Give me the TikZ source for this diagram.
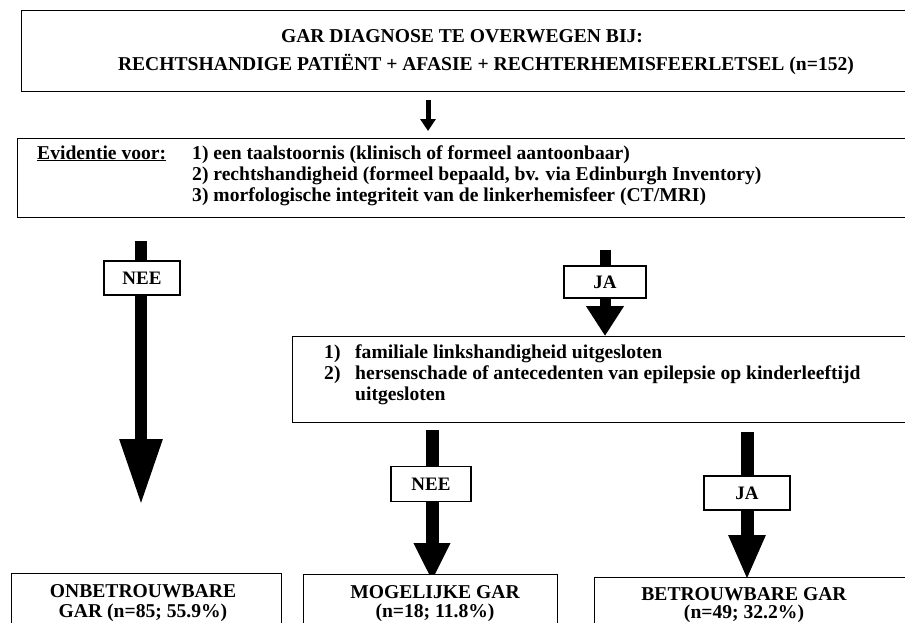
\documentclass[tikz,border=0pt]{standalone}
\usepackage{fontspec}
\setmainfont{Liberation Serif}
\usetikzlibrary{arrows.meta}
\begin{document}
\begin{tikzpicture}[x=1pt,y=-1pt,
  box/.style={draw, line width=1.3pt, inner sep=0pt, fill=white},
  lbl/.style={box, font=\bfseries\fontsize{19}{21}\selectfont},
  txt/.style={inner sep=0pt, font=\bfseries\fontsize{19.6}{21}\selectfont},
  fat/.style={line width=#1},
]
\clip (0,0) rectangle (905,622);
\useasboundingbox (0,0) rectangle (905,622);
\fill[white] (0,0) rectangle (905,622);

% top box (right side runs off the page)
\node[box, minimum width=940, minimum height=81, anchor=north west] (top) at (21,10) {};
\node[txt, anchor=base] (t1) at (462,42) {GAR DIAGNOSE TE OVERWEGEN BIJ:};
\node[txt, anchor=base] (t2) at (486,70) {RECHTSHANDIGE PATIËNT + AFASIE + RECHTERHEMISFEERLETSEL (n=152)};

% small arrow
\coordinate (s1) at (428,100);
\coordinate (s2) at (428,131);
\draw[fat=5pt, -{Triangle[width=15pt,length=12pt]}] (s1) -- (s2);

% evidence box
\node[box, minimum width=940, minimum height=79, anchor=north west] (ev) at (17,138) {};
\node[txt, anchor=base west] (evl) at (37,159) {\underline{Evidentie voor:}};
\node[txt, anchor=base west] (ev1) at (192,159) {1) een taalstoornis (klinisch of formeel aantoonbaar)};
\node[txt, anchor=base west] (ev2) at (192,180) {2) rechtshandigheid (formeel bepaald, bv. via Edinburgh Inventory)};
\node[txt, anchor=base west] (ev3) at (192,201) {3) morfologische integriteit van de linkerhemisfeer (CT/MRI)};

% criteria box
\node[box, minimum width=640, minimum height=86, anchor=north west] (crit) at (292,336) {};
\node[txt, anchor=base west] (c1n) at (324,358) {1)};
\node[txt, anchor=base west] (c1) at (355,358) {familiale linkshandigheid uitgesloten};
\node[txt, anchor=base west] (c2n) at (324,379) {2)};
\node[txt, anchor=base west] (c2) at (355,379) {hersenschade of antecedenten van epilepsie op kinderleeftijd};
\node[txt, anchor=base west] (c3) at (355,400) {uitgesloten};

% arrows
\coordinate (la1) at (141,241);
\coordinate (la2) at (141,505);
\draw[fat=12pt, -{Triangle[width=40pt,length=66pt]}] (la1) -- (la2);
\coordinate (ja1) at (605,250);
\draw[fat=11pt, -{Triangle[width=36pt,length=30pt]}] (ja1) -- (crit.north -| ja1);
\coordinate (ma1) at (432,430);
\coordinate (ma2) at (432,581);
\draw[fat=13pt, -{Triangle[width=34pt,length=38pt]}] (ma1) -- (ma2);
\coordinate (ra1) at (747,432);
\coordinate (ra2) at (747,580);
\draw[fat=13pt, -{Triangle[width=34pt,length=45pt]}] (ra1) -- (ra2);

% labels on arrows
\node[lbl, minimum width=76, minimum height=34] (nee1) at (142,278) {NEE};
\node[lbl, minimum width=82, minimum height=32] (ja1b) at (605,282) {JA};
\node[lbl, minimum width=80, minimum height=35] (nee2) at (431,484) {NEE};
\node[lbl, minimum width=86, minimum height=34] (ja2b) at (747,493) {JA};

% bottom boxes (bottom edges run off the page)
\node[box, minimum width=270, minimum height=80, anchor=north west] (ra) at (11,573) {};
\node[box, minimum width=254, minimum height=80, anchor=north west] (rb) at (303,574) {};
\node[box, minimum width=330, minimum height=80, anchor=north west] (rc) at (594,577) {};
\node[txt, anchor=base] (ta1) at (143,597) {ONBETROUWBARE};
\node[txt, anchor=base] (ta2) at (143,617) {GAR (n=85; 55.9\%)};
\node[txt, anchor=base] (tb1) at (435,598) {MOGELIJKE GAR};
\node[txt, anchor=base] (tb2) at (435,617) {(n=18; 11.8\%)};
\node[txt, anchor=base] (tc1) at (744,600) {BETROUWBARE GAR};
\node[txt, anchor=base] (tc2) at (744,618) {(n=49; 32.2\%)};
\end{tikzpicture}
\end{document}
